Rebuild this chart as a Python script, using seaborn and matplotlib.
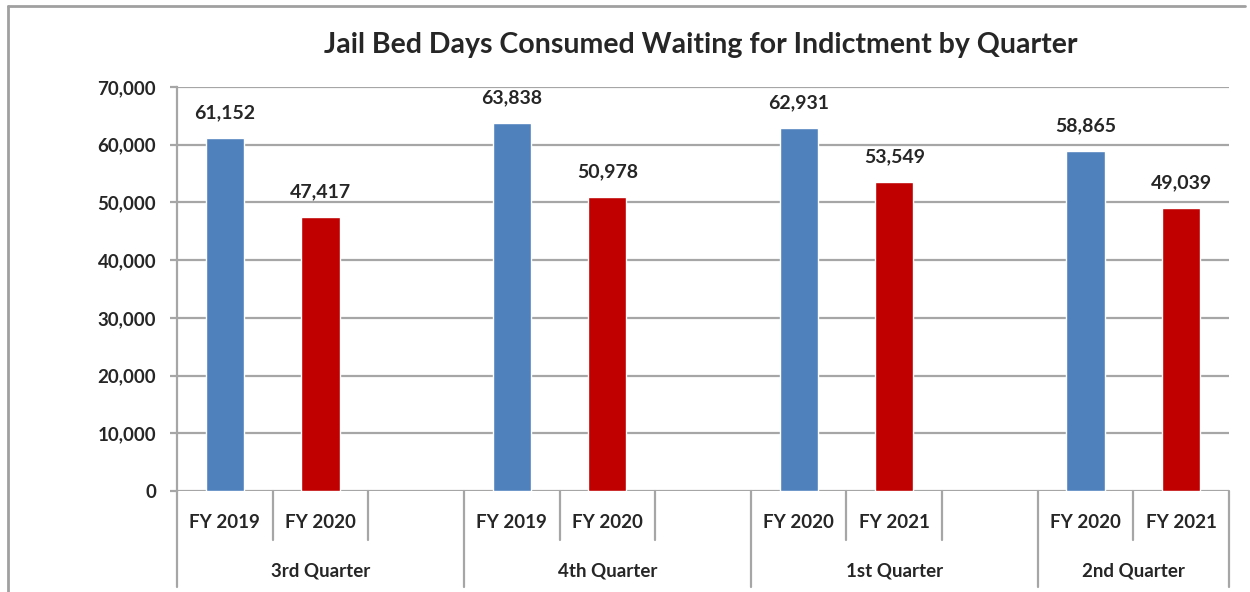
import numpy as np
import pandas as pd
import matplotlib
matplotlib.use('Agg')
import matplotlib.pyplot as plt
import seaborn as sns
from matplotlib.lines import Line2D

quarters = ['3rd Quarter', '4th Quarter', '1st Quarter', '2nd Quarter']
prior_year = ['FY 2019', 'FY 2019', 'FY 2020', 'FY 2020']
current_year = ['FY 2020', 'FY 2020', 'FY 2021', 'FY 2021']
prior_days = [61152, 63838, 62931, 58865]
current_days = [47417, 50978, 53549, 49039]
slots_per_group = [3, 3, 3, 2]
y_ticks = [0, 10000, 20000, 30000, 40000, 50000, 60000, 70000]

blue = '#4F81BD'
red = '#C00000'
grid_gray = '#A6A6A6'

# slot index where each quarter group starts
starts = np.concatenate([[0], np.cumsum(slots_per_group)[:-1]])

rows = []
for q, s, py, cy, pv, cv in zip(quarters, starts, prior_year, current_year, prior_days, current_days):
    rows.append({'slot': s, 'days': pv, 'series': 'prior', 'year': py, 'quarter': q})
    rows.append({'slot': s + 1, 'days': cv, 'series': 'current', 'year': cy, 'quarter': q})
df = pd.DataFrame(rows)

sns.set_style('white')
plt.rcParams['font.family'] = ['Lato', 'DejaVu Sans']

fig = plt.figure(figsize=(12.5, 5.92), dpi=100)
ax = fig.add_axes([177/1250, 1 - 491/592, (1229 - 177)/1250, (491 - 87)/592])

sns.barplot(data=df, x='slot', y='days', hue='series', palette={'prior': blue, 'current': red},
            native_scale=True, width=0.4, dodge=False, saturation=1, legend=False, ax=ax)

n_slots = sum(slots_per_group)
ax.set_xlim(-0.5, n_slots - 0.5)
ax.set_ylim(0, 70000)
ax.set_yticks(y_ticks)
ax.set_yticklabels([f'{v:,}' for v in y_ticks], fontsize=13.5, fontweight='bold')
ax.set_xticks([])
ax.set_xlabel('')
ax.set_ylabel('')
for v in y_ticks:
    ax.axhline(v, color=grid_gray, lw=1.6, zorder=0)
for side in ['top', 'right', 'bottom']:
    ax.spines[side].set_visible(False)
ax.spines['left'].set_color(grid_gray)
ax.spines['left'].set_linewidth(1.6)
ax.tick_params(axis='y', length=5, width=1.6, color=grid_gray, pad=10, left=True)

# value labels
for _, r in df.iterrows():
    ax.annotate(f'{r.days:,}', (r.slot, r.days), xytext=(0, 12), textcoords='offset points',
                ha='center', va='bottom', fontsize=14, fontweight='bold')

# multi-level category axis
trans = ax.get_xaxis_transform()
h = 491 - 87
fy_y = -(522 - 491) / h
short_y = -(540 - 491) / h
long_y = -(587 - 491) / h
q_y = -(571 - 491) / h
for q, s, py, cy, n in zip(quarters, starts, prior_year, current_year, slots_per_group):
    ax.text(s, fy_y, py, transform=trans, ha='center', va='center', fontsize=13.5, fontweight='bold')
    ax.text(s + 1, fy_y, cy, transform=trans, ha='center', va='center', fontsize=13.5, fontweight='bold')
    ax.text(s + (n - 1) / 2, q_y, q, transform=trans, ha='center', va='center', fontsize=13.5, fontweight='bold')
    for k in range(1, n):
        ax.add_line(Line2D([s - 0.5 + k] * 2, [0, short_y], transform=trans, color=grid_gray,
                           lw=1.6, clip_on=False))
    ax.add_line(Line2D([s - 0.5] * 2, [0, long_y], transform=trans, color=grid_gray, lw=1.6, clip_on=False))
ax.add_line(Line2D([n_slots - 0.5] * 2, [0, long_y], transform=trans, color=grid_gray, lw=1.6, clip_on=False))

fig.text(701/1250, 1 - 45/592, 'Jail Bed Days Consumed Waiting for Indictment by Quarter',
         ha='center', va='center', fontsize=20.5, fontweight='bold')

# outer chart frame (top and left edges visible)
fig.add_artist(Line2D([8/1250, 1245/1250], [1 - 6/592] * 2, color='#A0A0A0', lw=2, transform=fig.transFigure))
fig.add_artist(Line2D([8/1250] * 2, [1 - 6/592, 0], color='#A0A0A0', lw=2, transform=fig.transFigure))

fig.savefig('out.png', dpi=100)
